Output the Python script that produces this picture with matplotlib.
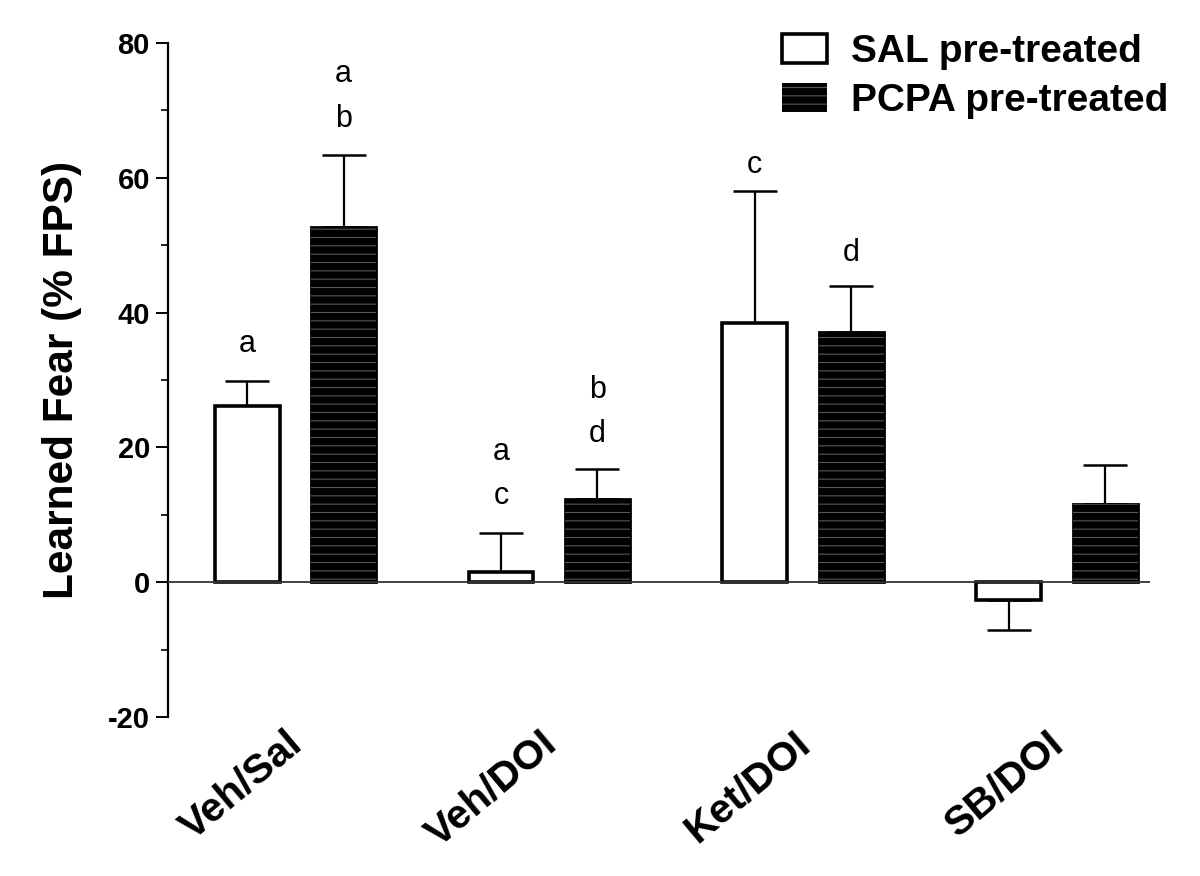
import matplotlib
matplotlib.use("Agg")
import matplotlib.pyplot as plt
import numpy as np
from matplotlib.patches import Patch

plt.rcParams['font.family'] = ['Liberation Sans', 'DejaVu Sans']
plt.rcParams['axes.unicode_minus'] = False
plt.rcParams['hatch.linewidth'] = 0.8

categories = ["Veh/Sal", "Veh/DOI", "Ket/DOI", "SB/DOI"]
sal_values = [26.1, 1.5, 38.4, -2.7]
sal_err = [3.7, 5.8, 19.6, 4.4]
pcpa_values = [52.7, 12.3, 37.1, 11.6]
pcpa_err = [10.7, 4.5, 6.8, 5.8]
series_names = ["SAL pre-treated", "PCPA pre-treated"]

# significance letters: category index, series index (0=SAL, 1=PCPA), letter, baseline y
letter_groups = [0, 0, 0, 1, 1, 1, 1, 2, 2]
letter_series = [0, 1, 1, 0, 0, 1, 1, 0, 1]
letter_text = ["a", "a", "b", "a", "c", "b", "d", "c", "d"]
letter_y = [34.1, 74.2, 67.5, 18.1, 11.6, 27.4, 20.8, 60.7, 47.6]

fig = plt.figure(figsize=(12, 8.76), dpi=100)
ax = fig.add_axes([168/1200, 1-717/876, (1150-168)/1200, (717-43)/876])

x = np.arange(len(categories))
off = 0.19
w = 0.256

# SAL bars
ax.bar(x - off, sal_values, w, color="white", edgecolor="black", linewidth=2.6, zorder=3)
# PCPA bars (black with faint horizontal lines)
ax.bar(x + off, pcpa_values, w, color="black", edgecolor="black", linewidth=2.0, zorder=3)
ax.bar(x + off, pcpa_values, w, color="none", edgecolor="#585858", hatch="--", linewidth=0, zorder=4)

def one_sided(vals, errs):
    lower = [e if v < 0 else 0 for v, e in zip(vals, errs)]
    upper = [0 if v < 0 else e for v, e in zip(vals, errs)]
    return [lower, upper]

ax.errorbar(x - off, sal_values, yerr=one_sided(sal_values, sal_err), fmt="none",
            ecolor="black", elinewidth=1.6, capsize=16, capthick=1.8, zorder=2)
ax.errorbar(x + off, pcpa_values, yerr=one_sided(pcpa_values, pcpa_err), fmt="none",
            ecolor="black", elinewidth=1.6, capsize=16, capthick=1.8, zorder=2)

ax.axhline(0, color="#333333", linewidth=1.3, zorder=5)

for g, s, t, yv in zip(letter_groups, letter_series, letter_text, letter_y):
    xp = g + (off if s == 1 else -off)
    ax.text(xp, yv, t, ha="center", va="baseline", fontsize=22, color="black")

ax.set_ylim(-20, 80)
ax.set_xlim(-0.502, 3.367)
ax.set_yticks([-20, 0, 20, 40, 60, 80])
ax.set_yticks(np.arange(-10, 80, 20), minor=True)
ax.tick_params(axis="y", which="major", length=9, width=1.4, labelsize=21, pad=4)
ax.tick_params(axis="y", which="minor", length=5, width=1.2)
for lab in ax.get_yticklabels():
    lab.set_fontweight("bold")
ax.set_xticks([])
for sp in ["top", "right", "bottom"]:
    ax.spines[sp].set_visible(False)
ax.spines["left"].set_linewidth(1.6)

ax.set_ylabel("Learned Fear (% FPS)", fontsize=30.5, fontweight="bold", labelpad=19)

for i, c in enumerate(categories):
    ax.annotate(c, xy=(x[i] - 0.04, -20), xycoords="data", xytext=(0, -5),
                textcoords="offset points", ha="right", va="top",
                rotation=40, rotation_mode="anchor", fontsize=29.5, fontweight="bold",
                annotation_clip=False)

handles = [Patch(facecolor="white", edgecolor="black", linewidth=2.6),
           Patch(facecolor="black", edgecolor="#585858", hatch="--", linewidth=0)]
leg = fig.legend(handles, series_names, loc="upper left",
                 bbox_to_anchor=(782/1200, 1-34/876), frameon=False,
                 prop={"size": 28, "weight": "bold"}, handlelength=1.15,
                 handleheight=0.78, handletextpad=0.62, labelspacing=0.33,
                 borderpad=0, borderaxespad=0)

fig.savefig("out.png", dpi=100)
